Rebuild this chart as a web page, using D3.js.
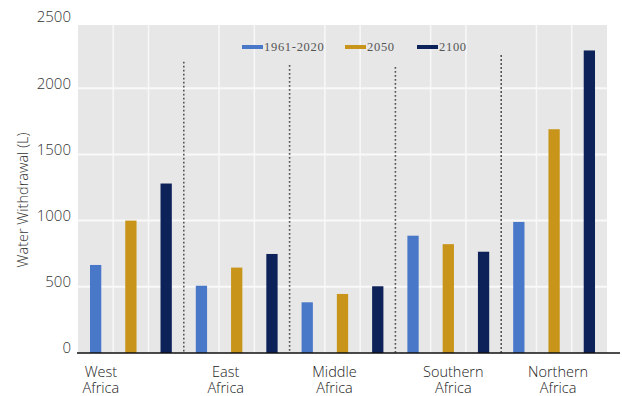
<!DOCTYPE html>
<html>
<head>
<meta charset="utf-8">
<script src="https://cdn.jsdelivr.net/npm/d3@7"></script>
<style>
  html, body { margin: 0; padding: 0; background: #ffffff; }
  svg { display: block; }
</style>
</head>
<body>
<svg id="chart" width="622" height="396"></svg>
<script>
// Regions along the x axis (two text lines each)
const regions = ["West Africa", "East Africa", "Middle Africa", "Southern Africa", "Northern Africa"];
const regionLines = [["West", "Africa"], ["East", "Africa"], ["Middle", "Africa"], ["Southern", "Africa"], ["Northern", "Africa"]];

// Series and their values (litres)
const seriesNames = ["1961-2020", "2050", "2100"];
const values1961 = [665, 508, 383, 886, 990];
const values2050 = [1000, 645, 446, 822, 1690];
const values2100 = [1280, 748, 504, 765, 2285];

// Y axis ticks
const yTicks = [0, 500, 1000, 1500, 2000, 2500];

// Heights reached by the dotted separators between regions
const dividerTops = [2200, 2175, 2160, 2250];

const colors = ["#4a78c8", "#c8951a", "#0d2258"];
const seriesValues = [values1961, values2050, values2100];

const svg = d3.select("#chart");
const plotLeft = 78, plotRight = 607, plotTop = 22, plotBottom = 353;
const labelFont = "'Open Sans', Lato, sans-serif";

const x0 = d3.scaleBand().domain(regions).range([plotLeft, plotRight]).padding(0);
const x1 = d3.scaleBand().domain(seriesNames).range([0, x0.bandwidth()])
  .paddingInner(0.68).paddingOuter(0.34);
const y = d3.scaleLinear().domain([0, 2500]).range([plotBottom, plotTop]);

// Plot background
svg.append("rect")
  .attr("x", plotLeft).attr("y", plotTop + 3)
  .attr("width", plotRight - plotLeft).attr("height", plotBottom - plotTop - 3)
  .attr("fill", "#e7e7e7");

// Vertical white gridlines at every bar slot boundary
const slot = x1.step();
const vLines = [];
regions.forEach(r => {
  for (let i = 1; i < 3; i++) vLines.push(x0(r) + i * slot);
});
svg.append("g").selectAll("line").data(vLines).join("line")
  .attr("x1", d => d).attr("x2", d => d)
  .attr("y1", plotTop + 3).attr("y2", plotBottom)
  .attr("stroke", "#f7f7f7").attr("stroke-width", 1.6);

// Horizontal white gridlines
svg.append("g").selectAll("line").data(yTicks.filter(t => t > 0 && t < 2500)).join("line")
  .attr("x1", plotLeft).attr("x2", plotRight)
  .attr("y1", d => y(d)).attr("y2", d => y(d))
  .attr("stroke", "#f9f9f9").attr("stroke-width", 2);

// Dotted separators between regions
svg.append("g").selectAll("line").data(dividerTops).join("line")
  .attr("x1", (d, i) => x0(regions[i + 1])).attr("x2", (d, i) => x0(regions[i + 1]))
  .attr("y1", d => y(d)).attr("y2", plotBottom)
  .attr("stroke", "#555").attr("stroke-width", 1.6)
  .attr("stroke-dasharray", "1.8,2.2");

// Bars
const groups = svg.append("g").selectAll("g").data(regions).join("g")
  .attr("transform", r => `translate(${x0(r)},0)`);
groups.selectAll("rect")
  .data((r, i) => seriesNames.map((s, k) => ({ s, k, v: seriesValues[k][i] })))
  .join("rect")
  .attr("x", d => x1(d.s))
  .attr("width", x1.bandwidth())
  .attr("y", d => y(d.v))
  .attr("height", d => plotBottom - y(d.v))
  .attr("fill", d => colors[d.k]);

// Baseline
svg.append("line")
  .attr("x1", plotLeft - 1).attr("x2", 620)
  .attr("y1", plotBottom).attr("y2", plotBottom)
  .attr("stroke", "#111").attr("stroke-width", 1.5);

// Y axis tick labels (sit slightly above their gridlines)
const yAxis = d3.axisLeft(y).tickValues(yTicks).tickFormat(d3.format("d"))
  .tickSize(0).tickPadding(7);
const yg = svg.append("g").attr("transform", `translate(${plotLeft},-5)`).call(yAxis);
yg.select(".domain").remove();
yg.selectAll("text")
  .style("font-family", labelFont)
  .style("font-size", "15px")
  .style("font-weight", 300)
  .attr("fill", "#333");

// Y axis title
svg.append("text")
  .attr("transform", "translate(28,200) rotate(-90)")
  .attr("text-anchor", "middle")
  .style("font-family", labelFont)
  .style("font-size", "14.5px")
  .style("font-weight", 300)
  .attr("fill", "#333")
  .text("Water Withdrawal (L)");

// Region labels below the baseline
const labelNudge = [-30, -11, -8, 5, 4];
const lab = svg.append("g").selectAll("text").data(regions).join("text")
  .attr("text-anchor", "middle")
  .style("font-family", labelFont)
  .style("font-size", "14.5px")
  .style("font-weight", 300)
  .attr("fill", "#222");
lab.each(function(r, i) {
  const cx = x0(r) + x0.bandwidth() / 2 + labelNudge[i];
  d3.select(this).selectAll("tspan").data(regionLines[i]).join("tspan")
    .attr("x", cx)
    .attr("y", (d, j) => 377 + j * 15.5)
    .text(d => d);
});

// Legend
const legendX = [242, 345, 417];
const leg = svg.append("g").selectAll("g").data(seriesNames).join("g")
  .attr("transform", (d, i) => `translate(${legendX[i]},47)`);
leg.append("line")
  .attr("x1", 0).attr("x2", 21).attr("y1", 0).attr("y2", 0)
  .attr("stroke", (d, i) => colors[i]).attr("stroke-width", 4);
leg.append("text")
  .attr("x", 22).attr("y", 4)
  .style("font-family", "'Liberation Serif', 'DejaVu Serif', serif")
  .style("font-size", "12.5px")
  .style("letter-spacing", "0.7px")
  .attr("fill", "#555")
  .text(d => d);
</script>
</body>
</html>
